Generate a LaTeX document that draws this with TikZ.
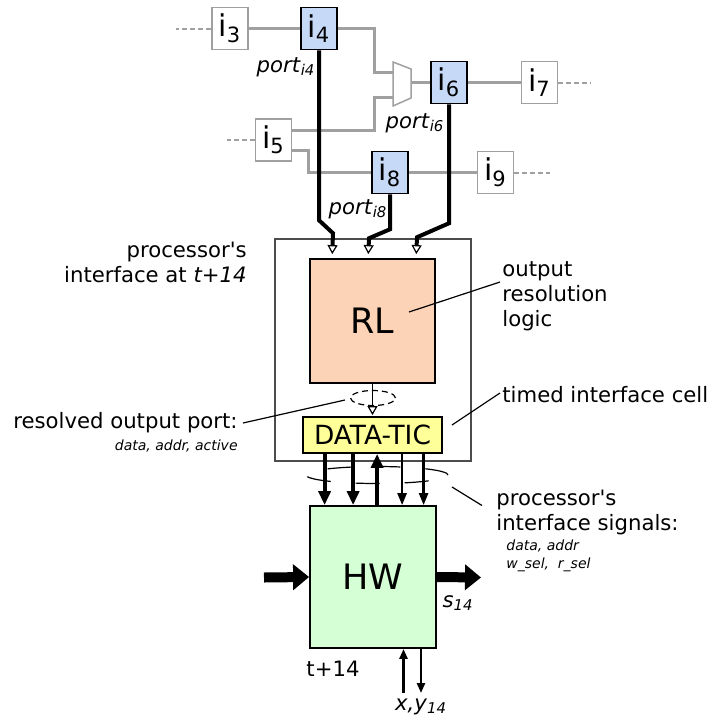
\documentclass[tikz,border=0pt]{standalone}
\usepackage{fontspec}
\setmainfont{DejaVu Sans}[Ligatures=TeXOff]
\usepackage{tikz}
\usetikzlibrary{arrows.meta,calc}
\definecolor{linkgray}{RGB}{160,160,160}
\definecolor{portblue}{RGB}{198,217,247}
\definecolor{rlpeach}{RGB}{252,211,182}
\definecolor{ticyellow}{RGB}{255,255,153}
\definecolor{hwgreen}{RGB}{213,255,213}

\begin{document}
\begin{tikzpicture}[x=0.5pt,y=-0.5pt,
  inst/.style={draw=linkgray,line width=0.75pt,fill=white,minimum width=18pt,minimum height=21pt,inner sep=0pt,font=\fontsize{15}{18}\selectfont},
  portinst/.style={inst,draw=black,fill=portblue},
  link/.style={draw=linkgray,line width=1.5pt},
  stub/.style={draw=linkgray,line width=1pt,dash pattern=on 2.5pt off 1.5pt},
  wire/.style={draw=black,line width=2pt,-{Triangle[open,fill=white,length=4.5pt,width=5pt,line width=0.6pt]},shorten >=2pt},
  block/.style={draw=black,line width=0.9pt,inner sep=0pt,font=\fontsize{17.5}{20}\selectfont},
  lbl/.style={inner sep=0pt,font=\fontsize{10.6}{12.5}\selectfont},
  note/.style={inner sep=0pt,font=\fontsize{7}{9}\selectfont\itshape},
  pointer/.style={draw=black,line width=0.6pt},
  busthick/.style={line width=2pt,-{Triangle[length=7pt,width=6pt]}},
  busthin/.style={line width=1.2pt,-{Triangle[length=6pt,width=4.5pt]}},
  fat/.style={line width=5pt,-{Triangle[length=8pt,width=12.5pt]}},
  pinarrow/.style={line width=1.3pt,-{Triangle[length=5pt,width=4pt]}}
]
\useasboundingbox (0,0) rectangle (712,719);

\node[inst] (i3) at (230,28.5) {i\textsubscript{3}};
\node[portinst] (i4) at (319,28.5) {i\textsubscript{4}};
\node[portinst] (i6) at (449,82.5) {i\textsubscript{6}};
\node[inst] (i7) at (539.5,82.5) {i\textsubscript{7}};
\node[inst] (i5) at (273.5,140) {i\textsubscript{5}};
\node[portinst] (i8) at (390,172.5) {i\textsubscript{8}};
\node[inst] (i9) at (495.5,172.5) {i\textsubscript{9}};

\coordinate (muxa) at (393,72);
\coordinate (muxb) at (393,97);
\coordinate (muxo) at (411,82.5);

\draw[link] (i3) -- (i4);
\draw[link] (i4.east) -- ++(37,0) |- (muxa);
\draw[link] ($(i5.east)+(0,-9.5)$) -- ++(82.5,0) |- (muxb);
\draw[link] ($(i5.east)+(0,10.5)$) -- ++(16,0) |- (i8.west);
\draw[link] (muxo) -- (i6.west);
\draw[link] (i6) -- (i7);
\draw[link] (i8) -- (i9);
\draw[draw=linkgray,line width=0.75pt,fill=white] (393,62) -- (411,69) -- (411,98) -- (393,106) -- cycle;

\draw[stub] (i3.west) -- ++(-35,0);
\draw[stub] (i5.west) -- ++(-28,0);
\draw[stub] (i7.east) -- ++(33,0);
\draw[stub] (i9.east) -- ++(36,0);

\node[lbl] (p4lbl) at (286,67) {\textit{port}\textsubscript{\textit{i4}}};
\node[lbl] (p6lbl) at (415,123) {\textit{port}\textsubscript{\textit{i6}}};
\node[lbl] (p8lbl) at (358,209) {\textit{port}\textsubscript{\textit{i8}}};

\node[draw=black!70,line width=0.75pt,minimum width=98pt,minimum height=111pt] (ifc) at (373,350) {};
\node[block,fill=rlpeach,minimum width=62.5pt,minimum height=62pt] (rl) at (372.5,321) {RL};
\node[block,fill=ticyellow,minimum width=69.5pt,minimum height=18pt,font=\fontsize{13.2}{15}\selectfont] (dtic) at (372.5,435) {DATA-TIC};
\node[block,fill=hwgreen,minimum width=63pt,minimum height=71pt] (hw) at (373,577) {HW};

\draw[wire] (i4.south) -- ++(0,170) -- ++(14,13) -- ($(rl.north west)+(23,0)$);
\draw[wire] (i8.south) -- ++(0,35) -- ++(-21,9) -- ($(rl.north west)+(59,0)$);
\draw[wire] (i6.south) -- ++(0,119) -- ++(-32,14) -- ($(rl.north west)+(107,0)$);

\draw[line width=0.6pt,dash pattern=on 3pt off 2pt] (373,398) ellipse [x radius=11.25pt,y radius=3.75pt];
\draw[line width=0.75pt,-{Triangle[open,fill=white,length=4.5pt,width=5pt,line width=0.6pt]},shorten >=0.5pt] (rl.south) -- (dtic.north);

\draw[line width=0.6pt,dash pattern=on 12pt off 12.5pt] (377,475) ellipse [x radius=35.5pt,y radius=4.25pt];
\foreach \dx/\kind in {22.5/busthick,51/busthick,100/busthin,121.5/busthin}{
  \coordinate (b) at ($(dtic.south west)+(\dx,0)$);
  \draw[\kind] (b) -- (b |- hw.north);
}
\coordinate (bu) at ($(dtic.south west)+(75,0)$);
\draw[busthick] (bu |- hw.north) -- (bu);

\coordinate (hwin) at (264,577.5);
\coordinate (hwout) at (481,577.5);
\draw[fat] (hwin) -- (hw.west);
\draw[fat] (hw.east) -- (hwout);

\coordinate (xyin) at (403.5,693);
\coordinate (xyout) at (421,693);
\draw[pinarrow] (xyin) -- (xyin |- hw.south);
\draw[pinarrow] (xyout |- hw.south) -- (xyout);

\node[lbl,anchor=east,align=right] (ifclbl) at (247,262) {processor's\\interface at \textit{t+14}};
\node[lbl,anchor=west,align=left] (rllbl) at (502,296) {output\\resolution\\logic};
\node[lbl,anchor=west] (ticlbl) at (502,395) {timed interface cell};
\node[lbl,anchor=east] (portlbl) at (238,423) {resolved output port:};
\node[note,anchor=east] (portsub) at (238,446) {data, addr, active};
\node[lbl,anchor=west,align=left] (siglbl) at (496,512.5) {processor's\\interface signals:};
\node[note,anchor=north west,align=left] (sigsub) at (506,539) {data, addr\\w\_sel,~~r\_sel};

\node[lbl] (s14) at (458,603) {\textit{s}\textsubscript{\textit{14}}};
\node[lbl] (tlbl) at (333,669) {t+14};
\node[lbl] (xylbl) at (421,707) {\textit{x,y}\textsubscript{\textit{14}}};

\coordinate (rlpt) at (409,312);
\coordinate (ticpt) at (452,425);
\coordinate (portpt) at (345,400);
\coordinate (sigpt) at (452,487);
\draw[pointer] (rlpt) -- ($(rllbl.west)+(-2,-14)$);
\draw[pointer] (ticpt) -- ($(ticlbl.west)+(-2,-2)$);
\draw[pointer] ($(portlbl.east)+(5,0)$) -- (portpt);
\draw[pointer] (sigpt) -- ($(siglbl.west)+(-14,-7)$);
\end{tikzpicture}
\end{document}
